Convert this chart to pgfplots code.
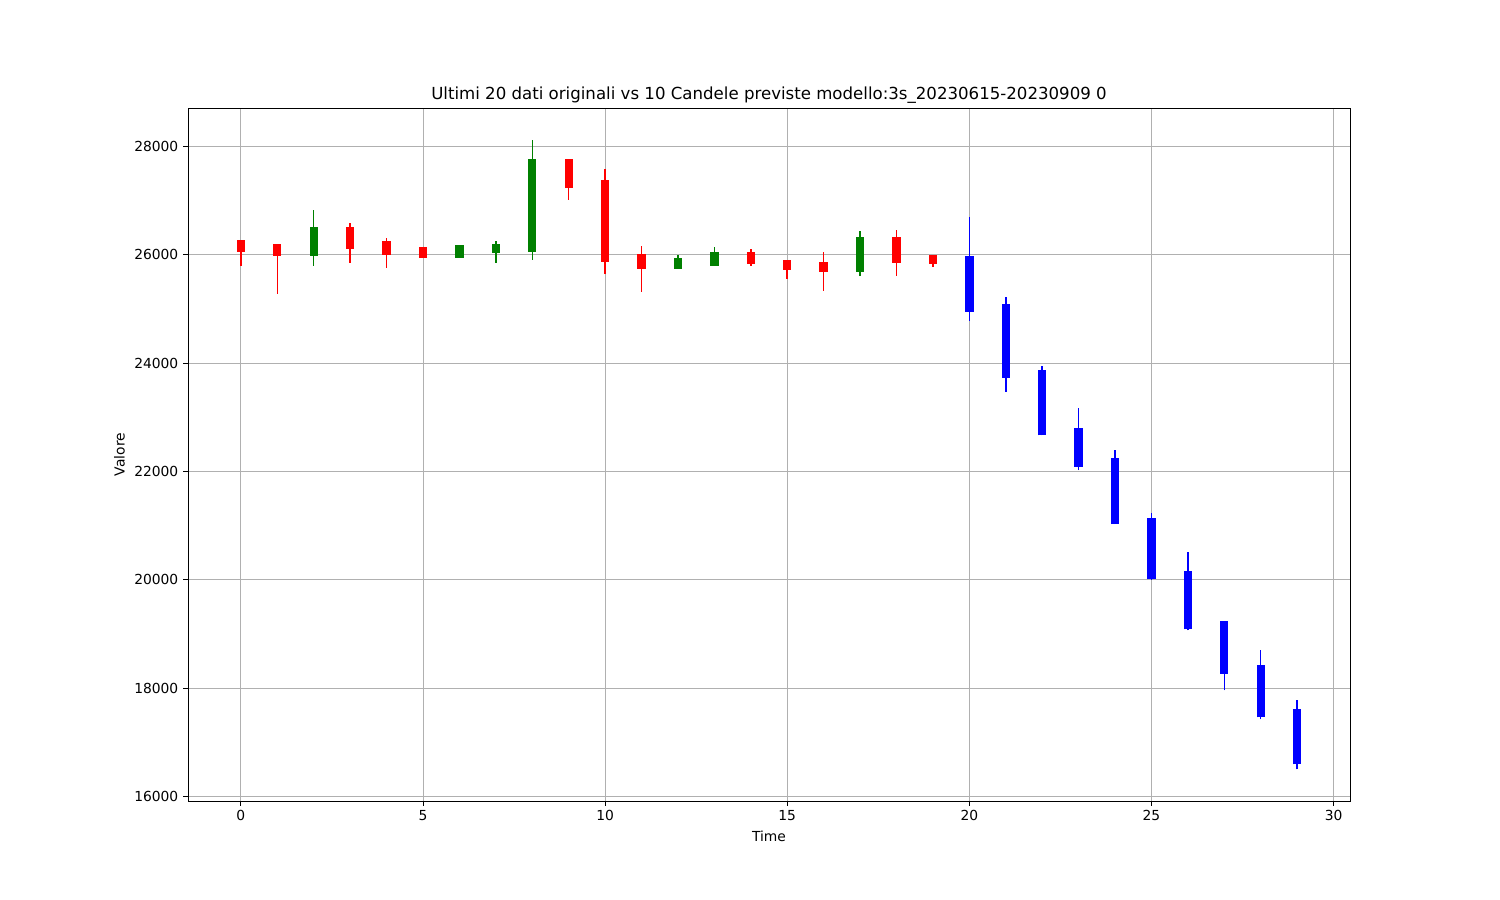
\documentclass[border=0pt]{standalone}
\usepackage{pgfplots}
\pgfplotsset{compat=1.18}
\usepackage{fontspec}
\setmainfont{DejaVu Sans}
\definecolor{mgreen}{HTML}{008000}
\definecolor{gridgray}{HTML}{B0B0B0}

\begin{document}
\begin{tikzpicture}
\begin{axis}[
  name=ax,
  scale only axis,
  width=11.62in, height=6.93in,
  xmin=-1.45, xmax=30.45,
  ymin=15916, ymax=28712,
  xtick={0,5,10,15,20,25,30},
  ytick={16000,18000,20000,22000,24000,26000,28000},
  grid=major,
  major grid style={gridgray, line width=0.6pt},
  tick align=outside,
  tick pos=left,
  major tick length=3.5pt,
  tick style={black, line width=0.6pt},
  axis line style={line width=0.6pt},
  /pgf/number format/assume math mode=true,
  /pgf/number format/set thousands separator={},
  scaled y ticks=false,
  ticklabel style={font=\fontsize{10}{12}\selectfont},
  xlabel={Time}, ylabel={Valore},
  label style={font=\fontsize{10}{12}\selectfont},
  xlabel style={yshift=0pt},
  ylabel style={yshift=0pt},
  title={Ultimi 20 dati originali vs 10 Candele previste modello:3s\_20230615-20230909 0},
  title style={font=\fontsize{12}{14}\selectfont, yshift=-6pt},
  unbounded coords=jump,
]
% ---- wicks (low -> high) ----
\addplot[draw=red, line width=1.05pt, mark=none, forget plot] table[row sep=\\] {
x y\\
0 25803\\ 0 26277\\ 0 nan\\
1 25280\\ 1 26203\\ 1 nan\\
3 25852\\ 3 26597\\ 3 nan\\
4 25766\\ 4 26320\\ 4 nan\\
9 27015\\ 9 27773\\ 9 nan\\
10 25643\\ 10 27588\\ 10 nan\\
11 25317\\ 11 26166\\ 11 nan\\
14 25803\\ 14 26111\\ 14 nan\\
15 25557\\ 15 25908\\ 15 nan\\
16 25340\\ 16 26061\\ 16 nan\\
18 25618\\ 18 26468\\ 18 nan\\
19 25778\\ 19 26006\\
};
\addplot[draw=mgreen, line width=1.05pt, mark=none, forget plot] table[row sep=\\] {
x y\\
2 25803\\ 2 26836\\ 2 nan\\
7 25852\\ 7 26258\\ 7 nan\\
8 25914\\ 8 28129\\ 8 nan\\
12 25748\\ 12 26000\\ 12 nan\\
13 25803\\ 13 26154\\ 13 nan\\
17 25606\\ 17 26443\\
};
\addplot[draw=blue, line width=1.05pt, mark=none, forget plot] table[row sep=\\] {
x y\\
20 24787\\ 20 26702\\ 20 nan\\
21 23476\\ 21 25230\\ 21 nan\\
22 22665\\ 22 23956\\ 22 nan\\
23 22024\\ 23 23175\\ 23 nan\\
24 21029\\ 24 22395\\ 24 nan\\
25 20000\\ 25 21236\\ 25 nan\\
26 19065\\ 26 20505\\ 26 nan\\
27 17957\\ 27 19233\\ 27 nan\\
28 17421\\ 28 18695\\ 28 nan\\
29 16498\\ 29 17772\\
};
% ---- bodies (open/close) ----
\addplot[draw=red, line width=6pt, line cap=butt, mark=none, forget plot] table[row sep=\\] {
x y\\
0 26061\\ 0 26277\\ 0 nan\\
1 25987\\ 1 26203\\ 1 nan\\
3 26117\\ 3 26517\\ 3 nan\\
4 26000\\ 4 26258\\ 4 nan\\
5 25950\\ 5 26148\\ 5 nan\\
9 27231\\ 9 27773\\ 9 nan\\
10 25877\\ 10 27385\\ 10 nan\\
11 25747\\ 11 26012\\ 11 nan\\
14 25834\\ 14 26055\\ 14 nan\\
15 25729\\ 15 25908\\ 15 nan\\
16 25692\\ 16 25871\\ 16 nan\\
18 25858\\ 18 26332\\ 18 nan\\
19 25840\\ 19 26006\\
};
\addplot[draw=mgreen, line width=6pt, line cap=butt, mark=none, forget plot] table[row sep=\\] {
x y\\
2 25987\\ 2 26517\\ 2 nan\\
6 25945\\ 6 26185\\ 6 nan\\
7 26043\\ 7 26203\\ 7 nan\\
8 26061\\ 8 27773\\ 8 nan\\
12 25748\\ 12 25945\\ 12 nan\\
13 25803\\ 13 26055\\ 13 nan\\
17 25692\\ 17 26332\\
};
\addplot[draw=blue, line width=6pt, line cap=butt, mark=none, forget plot] table[row sep=\\] {
x y\\
20 24954\\ 20 25982\\ 20 nan\\
21 23735\\ 21 25095\\ 21 nan\\
22 22665\\ 22 23877\\ 22 nan\\
23 22092\\ 23 22800\\ 23 nan\\
24 21029\\ 24 22247\\ 24 nan\\
25 20006\\ 25 21150\\ 25 nan\\
26 19083\\ 26 20154\\ 26 nan\\
27 18270\\ 27 19233\\ 27 nan\\
28 17458\\ 28 18418\\ 28 nan\\
29 16591\\ 29 17606\\
};
\end{axis}
\path[use as bounding box] ([xshift=-1.88in,yshift=-0.99in]ax.south west) rectangle ([xshift=1.50in,yshift=1.08in]ax.north east);
\end{tikzpicture}
\end{document}
